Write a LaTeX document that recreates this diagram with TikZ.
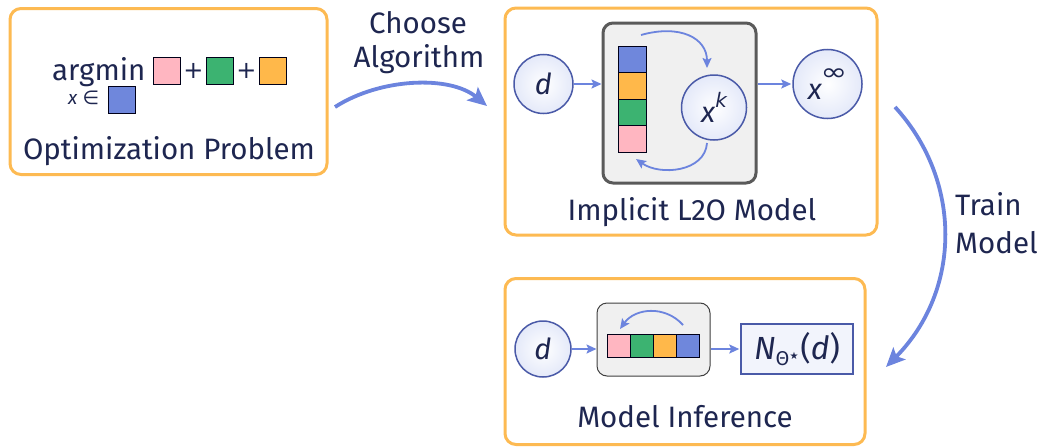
\documentclass[tikz,border=0pt]{standalone}
\usepackage{fontspec}
\usepackage{graphicx}
\setmainfont{Fira Sans}
\newfontfamily\symf{DejaVu Sans}
\usetikzlibrary{arrows.meta,shapes.geometric}
\definecolor{navy}{HTML}{1E2650}
\definecolor{panelor}{HTML}{FDBA52}
\definecolor{arrblue}{HTML}{6C84DE}
\definecolor{circblue}{HTML}{4A5AA8}
\definecolor{circfill}{HTML}{E4E9F9}
\definecolor{cblue}{HTML}{6F87DC}
\definecolor{cgreen}{HTML}{3CB371}
\definecolor{cpink}{HTML}{FFB6C1}
\definecolor{corange}{HTML}{FFB84A}
\definecolor{grayfill}{HTML}{F0F0F0}
\definecolor{grayedge}{HTML}{5A5A5A}
\tikzset{
  panel/.style={draw=panelor, line width=3pt, rounded corners=11pt, fill=white},
  graybox/.style={draw=grayedge, line width=3pt, rounded corners=10pt, fill=grayfill},
  grayboxthin/.style={draw=black!75, line width=1pt, rounded corners=10pt, fill=grayfill},
  sq/.style={draw=black!75!blue!40!black, line width=0.8pt, inner sep=0pt},
  circ/.style={circle, draw=circblue, line width=1.5pt, inner sep=0pt, shading=radial, inner color=white, outer color=circfill, text=navy, font=\fontsize{29}{32}\selectfont},
  arr/.style={draw=arrblue, line width=1.8pt, -{Stealth[length=10pt,width=9pt,inset=2pt]}},
  bigarr/.style={draw=arrblue, line width=3.8pt, -{Stealth[length=19pt,width=17pt,inset=4pt]}},
  lbl/.style={text=navy, font=\fontsize{29.5}{32}\selectfont, inner sep=0pt},
}
\begin{document}
\begin{tikzpicture}[x=1pt,y=-1pt]
\useasboundingbox (0,0) rectangle (1040,447);
% panels
\node[panel, minimum width=317, minimum height=166] (p1) at (168.5,91.5) {};
\node[panel, minimum width=372, minimum height=227] (p2) at (691,121.5) {};
\node[panel, minimum width=360, minimum height=166] (p3) at (685,361.5) {};
% panel 1 content
\node[lbl, anchor=base west] (argmin) at (52,80) {argmin};
\node[sq, fill=cpink, minimum size=27] (q1) at (167,70.5) {};
\node[text=navy, inner sep=0pt, font=\fontsize{24}{26}\selectfont\symf] (plus1) at (193.5,70.5) {+};
\node[sq, fill=cgreen, minimum size=27] (q2) at (220,70.5) {};
\node[text=navy, inner sep=0pt, font=\fontsize{24}{26}\selectfont\symf] (plus2) at (246.5,70.5) {+};
\node[sq, fill=corange, minimum size=27] (q3) at (272.5,70.5) {};
\node[text=navy, inner sep=0pt, anchor=base west, font=\fontsize{19}{21}\selectfont] (xin) at (68,104) {\textit{x} {\symf ∈}};
\node[sq, fill=cblue, minimum size=27] (q4) at (121.5,99.5) {};
\node[lbl, anchor=base] (t1) at (169,159) {Optimization Problem};
% choose algorithm
\node[lbl, anchor=base] (ch1) at (418,33) {Choose};
\node[lbl, anchor=base] (ch2) at (419,67) {Algorithm};
\coordinate (ca1) at (335,107);
\coordinate (ca2) at (487,106);
\draw[bigarr] (ca1) .. controls (380,78) and (450,75) .. (ca2);
% panel 2 content
\node[circ, minimum size=59] (d1) at (543.5,84) {\textit{d}};
\node[graybox, minimum width=153, minimum height=160] (g1) at (679.5,103) {};
\node[sq, fill=cblue, minimum width=28, minimum height=26.5] (s1) at (632,59.25) {};
\node[sq, fill=corange, minimum width=28, minimum height=26.5] (s2) at (632,85.75) {};
\node[sq, fill=cgreen, minimum width=28, minimum height=26.5] (s3) at (632,112.25) {};
\node[sq, fill=cpink, minimum width=28, minimum height=26.5] (s4) at (632,138.75) {};
\node[circ, minimum size=65] (xk) at (714,107.5) {\textit{x}\raisebox{1.0ex}{\fontsize{20}{22}\selectfont\symf\itshape k}};
\node[circ, minimum size=69] (xinf) at (827.5,84) {\textit{x}\kern-1.5pt\raisebox{1.25ex}{\fontsize{22}{24}\selectfont\symf\scalebox{1.45}[1.1]{∞}}};
\draw[arr] (d1.east) -- (d1.east -| g1.west);
\draw[arr, shorten >=1pt] (g1.east |- xinf) -- (xinf.west);
\coordinate (l1a) at (641,35);
\coordinate (l1b) at (707,68);
\draw[arr] (l1a) .. controls (680,24) and (707,38) .. (l1b);
\coordinate (l2a) at (707,143);
\coordinate (l2b) at (636,159);
\draw[arr] (l2a) .. controls (705,172) and (660,176) .. (l2b);
\node[lbl, anchor=base] (t2) at (692,220) {Implicit L2O Model};
% train model
\coordinate (tm1) at (895,107);
\coordinate (tm2) at (886,367);
\draw[bigarr] (tm1) .. controls (962,180) and (962,290) .. (tm2);
\node[lbl, anchor=base west] (tr1) at (955,215) {Train};
\node[lbl, anchor=base west] (tr2) at (955,253) {Model};
% panel 3 content
\node[circ, minimum size=56] (d2) at (543,349) {\textit{d}};
\node[grayboxthin, minimum width=113, minimum height=73] (g2) at (653.5,339.5) {};
\node[sq, fill=cpink, minimum size=23] (h1) at (618.5,345.5) {};
\node[sq, fill=cgreen, minimum size=23] (h2) at (641.5,345.5) {};
\node[sq, fill=corange, minimum size=23] (h3) at (664.5,345.5) {};
\node[sq, fill=cblue, minimum size=23] (h4) at (687.5,345.5) {};
\coordinate (l3a) at (683,325);
\coordinate (l3b) at (620,329);
\draw[arr] (l3a) .. controls (665,305) and (635,308) .. (l3b);
\node[draw=circblue, line width=1.5pt, fill=circfill!50, minimum width=112, minimum height=50, inner sep=0pt, text=navy, font=\fontsize{32}{34}\selectfont] (N) at (797,349) {\textit{N}\raisebox{-0.4ex}{\fontsize{20}{22}\selectfont Θ\raisebox{0.55ex}{\fontsize{10}{11}\selectfont\symf ★}}\kern2pt(\textit{d})};
\draw[arr] (d2.east) -- (d2.east -| g2.west);
\draw[arr, shorten >=1pt] (g2.east |- N) -- (N.west);
\node[lbl, anchor=base] (t3) at (685,427) {Model Inference};
\end{tikzpicture}
\end{document}
